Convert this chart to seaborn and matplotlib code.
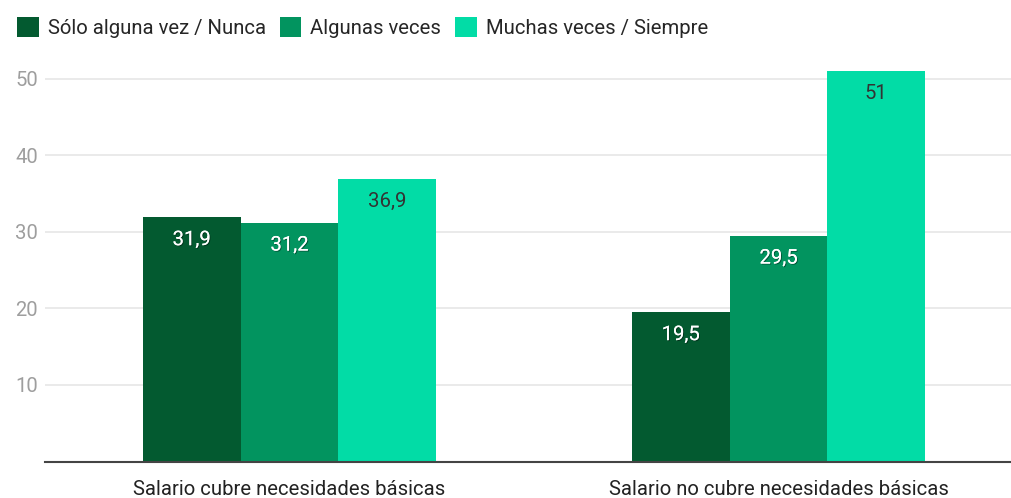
import matplotlib
matplotlib.use("Agg")
import matplotlib.pyplot as plt
import matplotlib.patheffects as pe
from matplotlib.patches import Patch
import seaborn as sns
import pandas as pd

categories = ["Salario cubre necesidades básicas", "Salario no cubre necesidades básicas"]
series = ["Sólo alguna vez / Nunca", "Algunas veces", "Muchas veces / Siempre"]
values = {
    "Sólo alguna vez / Nunca": [31.9, 19.5],
    "Algunas veces": [31.2, 29.5],
    "Muchas veces / Siempre": [36.9, 51],
}
colors = ["#035a30", "#02945f", "#02dca6"]
label_colors = ["white", "white", "#333333"]

rows = []
for s in series:
    for c, v in zip(categories, values[s]):
        rows.append({"cat": c, "serie": s, "val": v})
df = pd.DataFrame(rows)

sns.set_style("white")
plt.rcParams["font.family"] = ["Roboto", "DejaVu Sans"]
FS = 14.6

fig = plt.figure(figsize=(10.12, 4.98), dpi=100)
ax = fig.add_axes([45 / 1012, (498 - 461.5) / 498, 978 / 1012, (461.5 - 58) / 498])
sns.barplot(data=df, x="cat", y="val", hue="serie", hue_order=series,
            palette=colors, width=0.6, saturation=1, ax=ax, legend=False,
            edgecolor="none", linewidth=0)

ax.set_xlim(-0.5, 1.5)
ax.set_ylim(0, 52.7)
ax.set_yticks([10, 20, 30, 40, 50])
ax.grid(axis="y", color="#e6e6e6", linewidth=1.2)
ax.set_axisbelow(True)
for s in ["top", "right", "left"]:
    ax.spines[s].set_visible(False)
ax.spines["bottom"].set_color("#444444")
ax.spines["bottom"].set_linewidth(1.5)
ax.set_xlabel("")
ax.set_ylabel("")
ax.tick_params(axis="y", colors="#9e9e9e", labelsize=FS, length=0, pad=5)
ax.tick_params(axis="x", colors="#222222", labelsize=FS, length=0, pad=13)
for lbl in ax.get_yticklabels():
    lbl.set_color("#9e9e9e")
for lbl in ax.get_xticklabels():
    lbl.set_color("#222222")

for i, cont in enumerate(ax.containers):
    labels = [f"{v:g}".replace(".", ",") for v in cont.datavalues]
    texts = ax.bar_label(cont, labels=labels, label_type="edge", padding=-23,
                         color=label_colors[i], fontsize=FS)
    if label_colors[i] == "white":
        for t in texts:
            t.set_path_effects([pe.withSimplePatchShadow(offset=(0.7, -0.7), shadow_rgbFace="black", alpha=0.4), pe.Normal()])

handles = [Patch(facecolor=c, edgecolor="none") for c in colors]
fig.legend(handles, series, loc="upper left", bbox_to_anchor=(0.0, 1.0),
           ncol=3, frameon=False, fontsize=FS, handlelength=1.05, handleheight=1.1,
           handletextpad=0.45, columnspacing=0.7, borderaxespad=0.45)

fig.savefig("out.png", dpi=100)
